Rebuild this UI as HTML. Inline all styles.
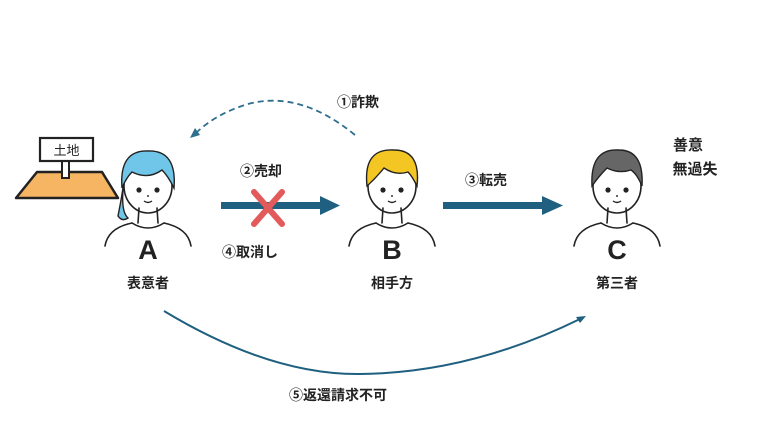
<!DOCTYPE html>
<html><head><meta charset="utf-8"><style>
html,body{margin:0;padding:0;background:#fff;}
svg{display:block;}
text{font-family:"Liberation Sans","Noto Sans CJK JP",sans-serif;fill:#222;font-weight:bold;}
</style></head><body>
<svg width="768" height="430" viewBox="0 0 768 430" xmlns="http://www.w3.org/2000/svg">
<defs>
<g id="body" fill="none" stroke="#222" stroke-width="1.6" stroke-linecap="round">
  <path d="M-43,60 Q-40,42 -16,37 M16,37 Q40,42 43,60"/>
  <path d="M-16,37 Q0,47 16,37"/>
  <path d="M-9,22 L-10,37 M9,22 L10,37"/>
</g>
<g id="face">
  <circle cx="-9" cy="4" r="2.6" fill="#222"/>
  <circle cx="9" cy="4" r="2.6" fill="#222"/>
  <path d="M-4,15 Q0,18 4,15" fill="none" stroke="#222" stroke-width="1.4"/>
  <path d="M0,9 l0,2" stroke="#222" stroke-width="1.4"/>
</g>
</defs>

<polygon points="16,198 118,198 102,172 37,172" fill="#f5b562" stroke="#222" stroke-width="2.5" stroke-linejoin="round"/>
<rect x="62" y="160" width="7" height="18" fill="#fff" stroke="#222" stroke-width="2"/>
<rect x="40" y="138" width="53" height="23" fill="#fff" stroke="#222" stroke-width="2.2"/>
<text x="66.5" y="155" font-size="13" text-anchor="middle" fill="#444" style="font-weight:normal">土地</text>

<g transform="translate(148,186)">
  <path d="M-24,-5 Q-28,25 -20,32 Q-26,36 -30,30 Q-26,10 -24,-5 Z" fill="#6fc6e8" stroke="#222" stroke-width="1.4"/>
  <ellipse cx="0" cy="0" rx="24" ry="27" fill="#fff" stroke="#222" stroke-width="1.6"/>
  <path d="M-26,2 Q-29,-36 0,-35 Q29,-36 26,2 Q20,-10 14,-16 Q0,-6 -16,-14 Q-22,-8 -26,2 Z" fill="#6fc6e8" stroke="#222" stroke-width="1.4"/>
  <use href="#face"/>
  <use href="#body"/>
</g>
<g transform="translate(392,186)">
  <ellipse cx="0" cy="0" rx="24" ry="27" fill="#fff" stroke="#222" stroke-width="1.6"/>
  <path d="M-25,0 Q-29,-38 2,-36 Q29,-36 25,0 Q20,-10 16,-14 Q4,-10 -8,-18 Q-16,-8 -25,0 Z" fill="#f3c623" stroke="#222" stroke-width="1.4"/>
  <use href="#face"/>
  <use href="#body"/>
</g>
<g transform="translate(617,186)">
  <ellipse cx="0" cy="0" rx="24" ry="27" fill="#fff" stroke="#222" stroke-width="1.6"/>
  <path d="M-25,0 Q-27,-38 2,-36 Q27,-36 25,0 Q20,-12 14,-16 Q2,-12 -10,-18 Q-18,-10 -25,0 Z" fill="#666" stroke="#222" stroke-width="1.4"/>
  <use href="#face"/>
  <use href="#body"/>
</g>

<text x="148" y="259" font-size="27" text-anchor="middle" fill="#111">A</text>
<text x="148" y="288" font-size="14" text-anchor="middle">表意者</text>
<text x="392" y="259" font-size="27" text-anchor="middle" fill="#111">B</text>
<text x="392" y="288" font-size="14" text-anchor="middle">相手方</text>
<text x="617" y="259" font-size="27" text-anchor="middle" fill="#111">C</text>
<text x="617" y="288" font-size="14" text-anchor="middle">第三者</text>
<text x="688" y="150" font-size="15" text-anchor="middle">善意</text>
<text x="695" y="174" font-size="15" text-anchor="middle">無過失</text>

<g fill="#1f5f7f" stroke="none">
  <rect x="221" y="202" width="102" height="7"/>
  <polygon points="320,196 340,205.5 320,215"/>
  <rect x="443" y="202" width="102" height="7"/>
  <polygon points="542,196 563,205.5 542,215"/>
</g>
<g stroke="#e25a5a" stroke-width="6" stroke-linecap="round">
  <line x1="254" y1="192" x2="282" y2="224"/>
  <line x1="282" y1="192" x2="254" y2="224"/>
</g>
<text x="240" y="176" font-size="14">②売却</text>
<text x="222" y="257" font-size="14">④取消し</text>
<text x="465" y="185" font-size="14">③転売</text>

<path d="M355,135 Q300,90 248,104 Q215,114 195,134" fill="none" stroke="#2e6e8e" stroke-width="1.8" stroke-dasharray="6,4"/>
<polygon points="190,138 195,128 200,135" fill="#2e6e8e"/>
<text x="337" y="107" font-size="14">①詐欺</text>

<path d="M164,311 Q270,375 360,374 Q470,373 580,319" fill="none" stroke="#1f5f7f" stroke-width="2"/>
<polygon points="586,316 576,317 580,323" fill="#1f5f7f"/>
<text x="289" y="400" font-size="14">⑤返還請求不可</text>
</svg>
</body></html>
